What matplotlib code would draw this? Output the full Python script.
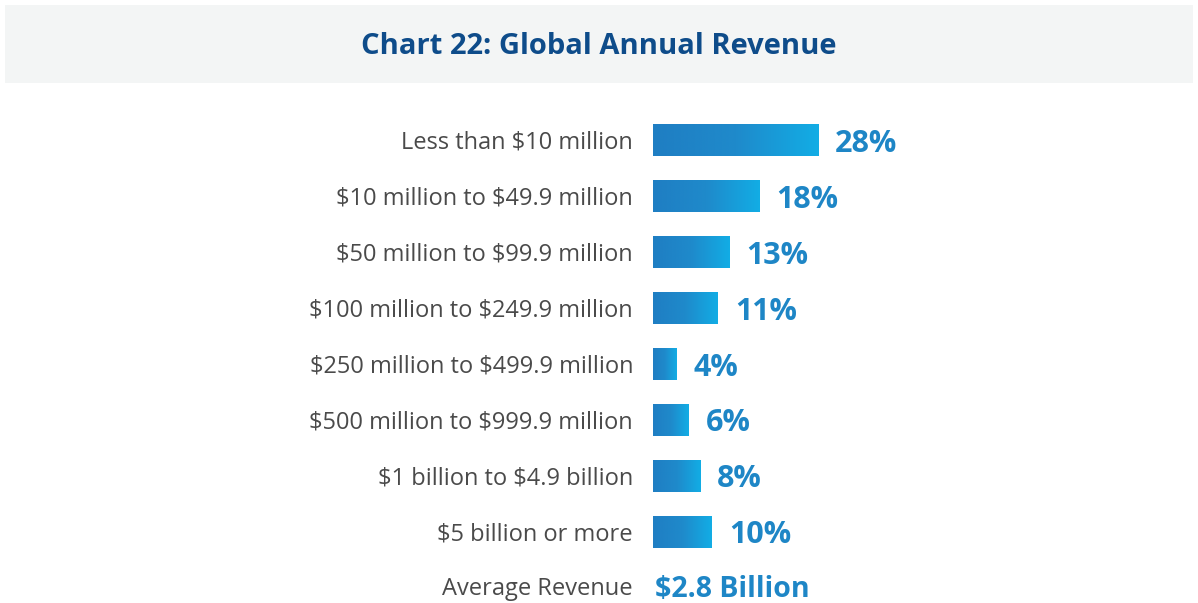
import numpy as np
import matplotlib.pyplot as plt
from matplotlib.patches import Rectangle
from matplotlib.colors import LinearSegmentedColormap

# datos del grafico
categorias = [
    "Less than $10 million",
    "$10 million to $49.9 million",
    "$50 million to $99.9 million",
    "$100 million to $249.9 million",
    "$250 million to $499.9 million",
    "$500 million to $999.9 million",
    "$1 billion to $4.9 billion",
    "$5 billion or more",
]
porcentajes = [28, 18, 13, 11, 4, 6, 8, 10]
etiquetas_valor = ["28%", "18%", "13%", "11%", "4%", "6%", "8%", "10%"]
promedio_label = "Average Revenue"
promedio_valor = "$2.8 Billion"
titulo = "Chart 22: Global Annual Revenue"

plt.rcParams['font.family'] = ['Open Sans', 'DejaVu Sans']
plt.rcParams['text.parse_math'] = False

W, H = 1198, 603
fig = plt.figure(figsize=(W / 100, H / 100), dpi=100)

# banda del titulo
fig.patches.append(Rectangle((5 / W, 1 - 83 / H), 1188 / W, 78 / H,
                             transform=fig.transFigure, facecolor='#f3f5f5',
                             edgecolor='none', zorder=0))
fig.text(0.5, 1 - 47 / H, titulo, ha='center', va='center', fontsize=21,
         fontweight='bold', color='#0e4c8a')

# ejes: x en %, y por indice de categoria
px_por_pct = 5.9
x0 = 653
ax = fig.add_axes([x0 / W, 1 - 602.2 / H, (1190 - x0) / W, (602.2 - 113) / H])
ax.set_xlim(0, (1190 - x0) / px_por_pct)
ax.set_ylim(8.25, -0.5)
ax.axis('off')

cmap = LinearSegmentedColormap.from_list('azul', ['#1f7ec3', '#1f8acb', '#12ade5'])
grad = np.linspace(0, 1, 256).reshape(1, -1)
alto = 0.555

for i, (cat, v, lab) in enumerate(zip(categorias, porcentajes, etiquetas_valor)):
    ax.imshow(grad, extent=[0, v, i + alto / 2, i - alto / 2], aspect='auto',
              cmap=cmap, interpolation='bicubic')
    ax.annotate(cat, xy=(0, i), xytext=(-20, -2), textcoords='offset pixels',
                ha='right', va='center', fontsize=17, color='#4a4a4a')
    ax.annotate(lab, xy=(v, i), xytext=(17, -3), textcoords='offset pixels',
                ha='left', va='center', fontsize=22, fontweight='bold',
                color='#1e86c6')

n = len(categorias)
ax.annotate(promedio_label, xy=(0, n), xytext=(-20, -1), textcoords='offset pixels',
            ha='right', va='center', fontsize=17, color='#4a4a4a')
ax.annotate(promedio_valor, xy=(0, n), xytext=(2, -1), textcoords='offset pixels',
            ha='left', va='center', fontsize=20.5, fontweight='bold', color='#1e86c6')

ax.set_xlim(0, (1190 - x0) / px_por_pct)
ax.set_ylim(8.25, -0.5)

fig.savefig('out.png', dpi=100, facecolor='white')
